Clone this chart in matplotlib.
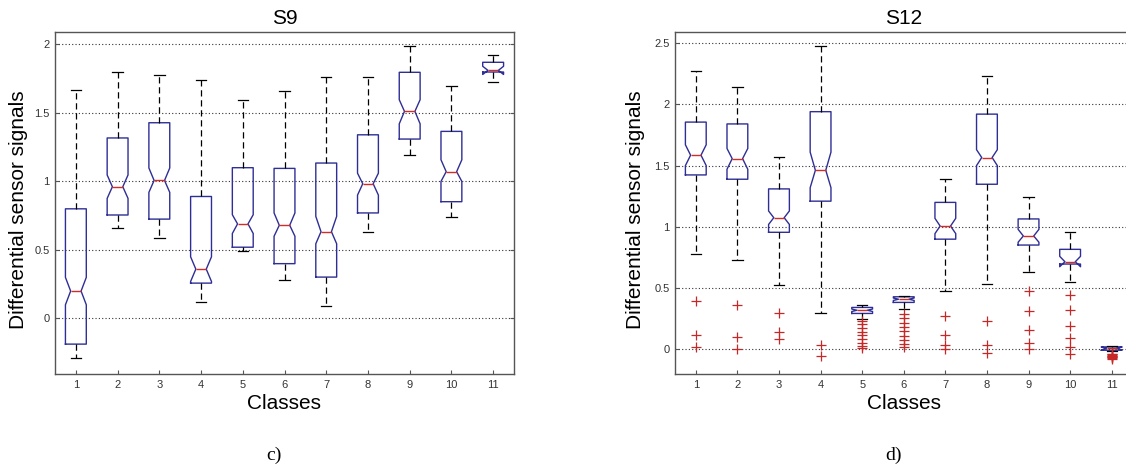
import matplotlib
matplotlib.use("Agg")
import matplotlib.pyplot as plt
from matplotlib.ticker import FormatStrFormatter

plt.rcParams["font.family"] = ["Liberation Sans", "DejaVu Sans"]

classes = list(range(1, 12))

# S9 panel (no outliers)
s9_whislo = [-0.285, 0.66, 0.59, 0.117, 0.49, 0.28, 0.093, 0.628, 1.19, 0.742, 1.725]
s9_q1 = [-0.187, 0.755, 0.725, 0.258, 0.52, 0.40, 0.302, 0.77, 1.309, 0.852, 1.798]
s9_med = [0.20, 0.961, 1.007, 0.36, 0.69, 0.68, 0.633, 0.983, 1.511, 1.071, 1.81]
s9_q3 = [0.80, 1.317, 1.428, 0.89, 1.10, 1.095, 1.134, 1.34, 1.796, 1.365, 1.869]
s9_whishi = [1.664, 1.796, 1.774, 1.742, 1.596, 1.662, 1.759, 1.759, 1.985, 1.696, 1.923]
s9_cilo = [0.10, 0.876, 0.92, 0.27, 0.62, 0.60, 0.545, 0.90, 1.42, 1.0, 1.78]
s9_cihi = [0.30, 1.047, 1.098, 0.45, 0.757, 0.77, 0.745, 1.06, 1.596, 1.158, 1.84]

# S12 panel
s12_whislo = [0.776, 0.73, 0.523, 0.30, 0.245, 0.33, 0.476, 0.531, 0.634, 0.552, -0.015]
s12_q1 = [1.424, 1.389, 0.956, 1.21, 0.294, 0.384, 0.90, 1.348, 0.852, 0.697, -0.006]
s12_med = [1.585, 1.557, 1.075, 1.462, 0.32, 0.41, 1.007, 1.566, 0.926, 0.716, 0.01]
s12_q3 = [1.855, 1.84, 1.31, 1.94, 0.343, 0.43, 1.20, 1.92, 1.065, 0.817, 0.021]
s12_whishi = [2.268, 2.14, 1.571, 2.472, 0.36, 0.44, 1.39, 2.233, 1.247, 0.961, 0.03]
s12_cilo = [1.50, 1.47, 1.02, 1.32, 0.31, 0.40, 0.945, 1.50, 0.875, 0.675, -0.005]
s12_cihi = [1.67, 1.64, 1.13, 1.61, 0.33, 0.42, 1.07, 1.63, 0.98, 0.76, 0.02]
s12_fliers = [
    [0.395, 0.12, 0.02],
    [0.36, 0.098, 0.0],
    [0.30, 0.144, 0.084],
    [0.035, -0.057],
    [0.235, 0.205, 0.175, 0.145, 0.115, 0.085, 0.055, 0.03, 0.01],
    [0.288, 0.253, 0.22, 0.185, 0.15, 0.111, 0.076, 0.043, 0.021],
    [0.275, 0.122, 0.035, 0.008],
    [0.231, 0.035, -0.025],
    [0.476, 0.313, 0.158, 0.054, 0.0],
    [0.444, 0.321, 0.193, 0.09, 0.021, -0.033],
    [-0.035, -0.04, -0.045, -0.05, -0.055, -0.06, -0.065, -0.07, -0.075],
]

BOX = "#2e2e96"
MED = "#d42a2a"


def build_stats(whislo, q1, med, q3, whishi, cilo, cihi, fliers=None):
    stats = []
    for i in range(len(med)):
        stats.append({
            "whislo": whislo[i], "q1": q1[i], "med": med[i], "q3": q3[i],
            "whishi": whishi[i], "cilo": cilo[i], "cihi": cihi[i],
            "fliers": fliers[i] if fliers else [],
        })
    return stats


def draw_panel(ax, stats, title, ylim, yticks, ylab_x):
    ax.bxp(stats, positions=classes, widths=0.5, shownotches=True,
           showfliers=True, capwidths=0.25,
           boxprops=dict(color=BOX, linewidth=1.0),
           medianprops=dict(color=MED, linewidth=1.0),
           whiskerprops=dict(color="black", linewidth=0.9, linestyle=(0, (5, 3))),
           capprops=dict(color="black", linewidth=0.9),
           flierprops=dict(marker="+", markeredgecolor="#c62828", markersize=6.5,
                           markeredgewidth=0.9, linestyle="none"))
    ax.set_xlim(0.5, 11.5)
    ax.set_ylim(*ylim)
    ax.set_yticks(yticks)
    ax.yaxis.set_major_formatter(FormatStrFormatter("%g"))
    ax.set_xticks(classes)
    ax.set_xticklabels([str(c) for c in classes])
    ax.yaxis.grid(True, linestyle=(0, (1, 2)), color="#333333", linewidth=0.8)
    ax.set_axisbelow(True)
    for sp in ax.spines.values():
        sp.set_color("#555555")
        sp.set_linewidth(1.0)
    ax.tick_params(axis="both", direction="in", length=3, labelsize=8,
                   colors="#555555", labelcolor="#333333", pad=4)
    ax.tick_params(axis="y", right=True)
    ax.set_title(title, fontsize=15, pad=6)
    ax.set_xlabel("Classes", fontsize=15, labelpad=3)
    ax.set_ylabel("Differential sensor signals", fontsize=15)
    ax.yaxis.set_label_coords(ylab_x, 0.48)


W, H = 1126, 466
fig = plt.figure(figsize=(W / 100, H / 100), dpi=100)

ax1 = fig.add_axes([55 / W, 1 - 374 / H, (514 - 55) / W, (374 - 32) / H])
ax2 = fig.add_axes([675 / W, 1 - 374 / H, (1132.5 - 675) / W, (374 - 32) / H])

draw_panel(ax1, build_stats(s9_whislo, s9_q1, s9_med, s9_q3, s9_whishi, s9_cilo, s9_cihi),
           "S9", (-0.405, 2.09), [0, 0.5, 1, 1.5, 2], -0.058)
draw_panel(ax2, build_stats(s12_whislo, s12_q1, s12_med, s12_q3, s12_whishi, s12_cilo, s12_cihi, s12_fliers),
           "S12", (-0.2, 2.59), [0, 0.5, 1, 1.5, 2, 2.5], -0.065)

serif = ["Liberation Serif", "DejaVu Serif"]
fig.text(274 / W, 1 - 455 / H, "c)", ha="center", va="center", fontsize=14, family=serif)
fig.text(894 / W, 1 - 455 / H, "d)", ha="center", va="center", fontsize=14, family=serif)

fig.savefig("out.png", dpi=100)
